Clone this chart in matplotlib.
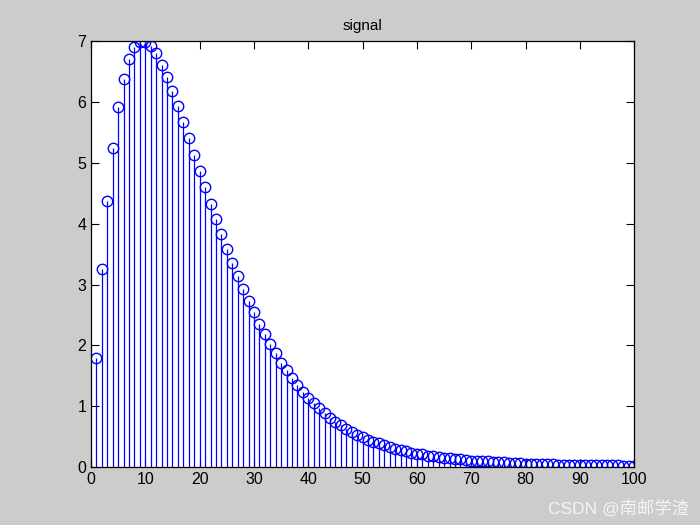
import numpy as np
import matplotlib.pyplot as plt

plt.rcParams['font.family'] = ['Liberation Sans', 'Noto Sans CJK SC', 'DejaVu Sans']

n = np.arange(1, 101)
signal = [
    1.79, 3.25, 4.37, 5.25, 5.91, 6.37, 6.70, 6.90, 6.98, 6.98,
    6.92, 6.80, 6.60, 6.40, 6.17, 5.93, 5.67, 5.40, 5.12, 4.86,
    4.60, 4.32, 4.07, 3.83, 3.58, 3.35, 3.14, 2.92, 2.73, 2.55,
    2.35, 2.18, 2.02, 1.87, 1.72, 1.59, 1.46, 1.35, 1.23, 1.13,
    1.05, 0.97, 0.89, 0.81, 0.74, 0.69, 0.63, 0.58, 0.53, 0.49,
    0.45, 0.42, 0.39, 0.36, 0.33, 0.30, 0.28, 0.26, 0.24, 0.22,
    0.21, 0.19, 0.18, 0.17, 0.16, 0.15, 0.14, 0.13, 0.12, 0.11,
    0.105, 0.10, 0.095, 0.09, 0.085, 0.08, 0.075, 0.07, 0.065, 0.06,
    0.058, 0.055, 0.052, 0.05, 0.048, 0.045, 0.043, 0.041, 0.039, 0.037,
    0.035, 0.034, 0.033, 0.032, 0.031, 0.030, 0.029, 0.028, 0.027, 0.026,
]

fig = plt.figure(figsize=(7, 5.25), dpi=100, facecolor='#cccccc')
ax = fig.add_axes([0.13, 0.11, 0.776, 0.812])

markers, stems, base = ax.stem(n, signal, linefmt='b-', markerfmt='bo', basefmt='k-')
plt.setp(stems, linewidth=0.9)
plt.setp(markers, markersize=7.5, markerfacecolor='none', markeredgewidth=1.0)
plt.setp(base, linewidth=0, visible=False)

ax.set_xlim(0, 100)
ax.set_ylim(0, 7)
ax.set_xticks(range(0, 101, 10))
ax.set_yticks(range(0, 8))
ax.tick_params(direction='in', top=True, right=True, labelsize=11.5, length=6, width=0.8)
for s in ax.spines.values():
    s.set_linewidth(0.9)
ax.set_title('signal', fontsize=11, pad=8)

fig.text(0.985, 0.015, 'CSDN @南邮学渣', ha='right', va='bottom',
         fontsize=12.5, color='#f4f4f4')

fig.savefig('out.png', dpi=100, facecolor=fig.get_facecolor())
